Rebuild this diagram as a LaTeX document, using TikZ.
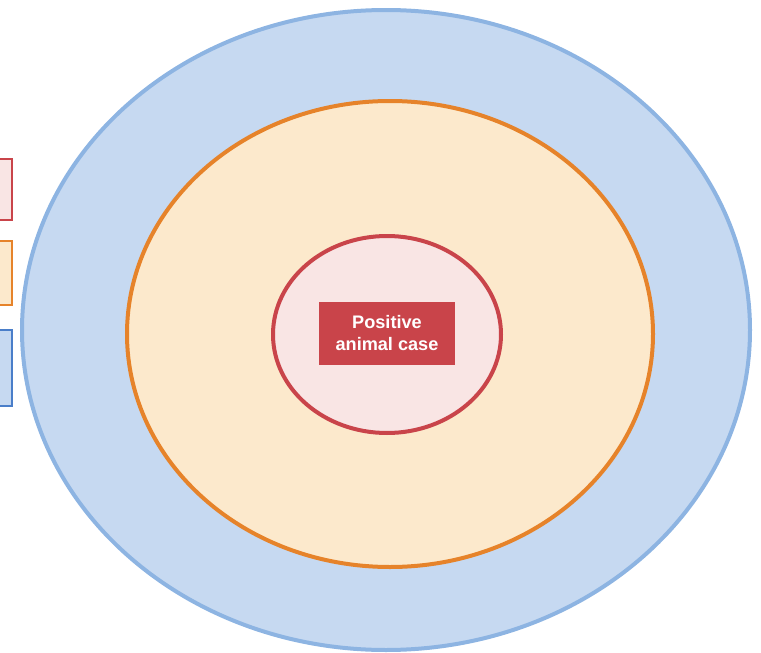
\documentclass[tikz,border=0pt]{standalone}
\usepackage{fontspec}
\setmainfont{Liberation Sans}
\usetikzlibrary{shapes.geometric,positioning}

\definecolor{zoneblue}{HTML}{8DB4E2}
\definecolor{zonebluefill}{HTML}{C6D9F1}
\definecolor{keyblue}{HTML}{4A7EC9}
\definecolor{zoneorange}{HTML}{E6832A}
\definecolor{zoneorangefill}{HTML}{FCE9CC}
\definecolor{zonered}{HTML}{C9444A}
\definecolor{zoneredfill}{HTML}{F9E5E4}

\begin{document}
\begin{tikzpicture}[x=0.75pt, y=-0.75pt,
	zone/.style={ellipse, inner sep=0pt, line width=3pt},
	keybox/.style={rectangle, inner sep=0pt, line width=1.5pt, minimum width=45pt},
	casebox/.style={rectangle, fill=zonered, text=white, font=\bfseries\fontsize{13.6}{16.5}\selectfont,
		align=center, minimum width=102pt, minimum height=47pt, inner sep=0pt}]
	\useasboundingbox (0,0) rectangle (761,653);
	\clip (0,0) rectangle (761,653);

	% Zones {outer, middle, inner}
	\node [zone, draw=zoneblue, fill=zonebluefill, minimum width=546pt, minimum height=480pt]
		(outer) at (386,330) {};
	\node [zone, draw=zoneorange, fill=zoneorangefill, minimum width=394.5pt, minimum height=349.5pt]
		(middle) at (390,334) {};
	\node [zone, draw=zonered, fill=zoneredfill, minimum width=171pt, minimum height=147.75pt]
		(inner) at (387,334.5) {};

	% Centre label
	\node [casebox] (case) at (387,333.5) {Positive\\animal case};

	% Key boxes on the left edge
	\node [keybox, draw=zonered, fill=zoneredfill, minimum height=45.75pt]
		(keyred) at (-18,189.5) {};
	\node [keybox, draw=zoneorange, fill=zoneorangefill, minimum height=48pt]
		(keyorange) at (-18,273) {};
	\node [keybox, draw=keyblue, fill=zonebluefill, minimum height=57pt]
		(keyblue) at (-18,368) {};

\end{tikzpicture}
\end{document}
